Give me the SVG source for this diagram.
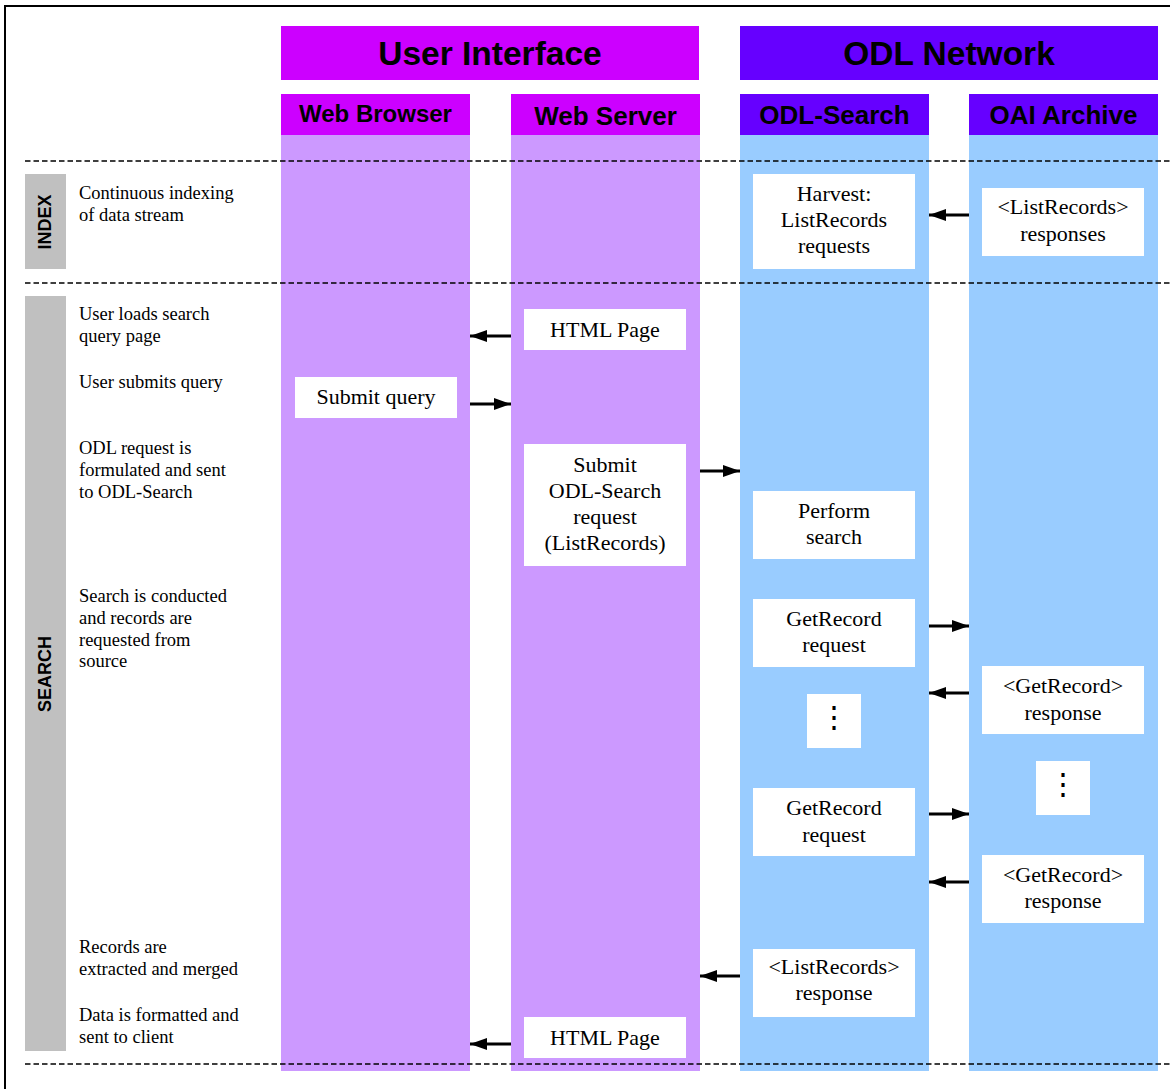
<svg xmlns="http://www.w3.org/2000/svg" width="1170" height="1089" viewBox="0 0 1170 1089">
  <defs>
    <marker id="head" viewBox="0 0 17 12" refX="17" refY="6" markerWidth="17" markerHeight="12" markerUnits="userSpaceOnUse" orient="auto">
      <path d="M0,0 L17,6 L0,12 Z" fill="#000"/>
    </marker>
    <style>
      .ui-head { fill: #CC00FF; }
      .ui-body { fill: #CC99FF; }
      .net-head { fill: #6600FF; }
      .net-body { fill: #99CCFF; }
      .phase { fill: #C0C0C0; }
      .box { fill: #FFFFFF; }
      .title { font-family: "Liberation Sans", Arial, sans-serif; font-weight: bold; fill: #000; text-anchor: middle; }
      .lbl { font-family: "Liberation Serif", "Times New Roman", serif; font-size: 22px; fill: #000; text-anchor: middle; }
      .dots { font-family: "DejaVu Serif", serif; font-size: 30px; fill: #000; text-anchor: middle; }
      .note { font-family: "Liberation Serif", "Times New Roman", serif; font-size: 18.5px; fill: #000; }
      .sep { stroke: #000; stroke-width: 1.5; stroke-dasharray: 5.5 3; fill: none; }
      .flow { stroke: #000; stroke-width: 3; fill: none; marker-end: url(#head); }
    </style>
  </defs>

  <rect width="1170" height="1089" fill="#FFFFFF"/>
  <!-- outer frame -->
  <rect x="5" y="6" width="1175" height="1100" fill="none" stroke="#000" stroke-width="2"/>

  <!-- group headers -->
  <g id="user-interface">
    <rect class="ui-head" x="281" y="26" width="418" height="54"/>
    <text class="title" x="490" y="65" font-size="33.5">User Interface</text>
  </g>
  <g id="odl-network">
    <rect class="net-head" x="740" y="26" width="418" height="54"/>
    <text class="title" x="949" y="65" font-size="33.5">ODL Network</text>
  </g>

  <!-- swimlanes -->
  <g id="lane-web-browser">
    <rect class="ui-body" x="281" y="135" width="189" height="936"/>
    <rect class="ui-head" x="281" y="94" width="189" height="41"/>
    <text class="title" x="375.5" y="122" font-size="24">Web Browser</text>
  </g>
  <g id="lane-web-server">
    <rect class="ui-body" x="511" y="135" width="189" height="936"/>
    <rect class="ui-head" x="511" y="94" width="189" height="41"/>
    <text class="title" x="605.5" y="125" font-size="26">Web Server</text>
  </g>
  <g id="lane-odl-search">
    <rect class="net-body" x="740" y="135" width="189" height="936"/>
    <rect class="net-head" x="740" y="94" width="189" height="41"/>
    <text class="title" x="834.5" y="124" font-size="26">ODL-Search</text>
  </g>
  <g id="lane-oai-archive">
    <rect class="net-body" x="969" y="135" width="189" height="936"/>
    <rect class="net-head" x="969" y="94" width="189" height="41"/>
    <text class="title" x="1063.5" y="124" font-size="26">OAI Archive</text>
  </g>

  <!-- phase bars -->
  <g id="phase-index">
    <rect class="phase" x="25" y="174" width="41" height="95"/>
    <text class="title" font-size="18" transform="translate(51,222) rotate(-90)">INDEX</text>
  </g>
  <g id="phase-search">
    <rect class="phase" x="25" y="296" width="41" height="755"/>
    <text class="title" font-size="18" transform="translate(51,674) rotate(-90)">SEARCH</text>
  </g>

  <!-- step descriptions -->
  <g id="step-notes">
    <text class="note" x="79" y="199">Continuous indexing</text>
    <text class="note" x="79" y="221">of data stream</text>
    <text class="note" x="79" y="320">User loads search</text>
    <text class="note" x="79" y="342">query page</text>
    <text class="note" x="79" y="388">User submits query</text>
    <text class="note" x="79" y="454">ODL request is</text>
    <text class="note" x="79" y="476">formulated and sent</text>
    <text class="note" x="79" y="498">to ODL-Search</text>
    <text class="note" x="79" y="602">Search is conducted</text>
    <text class="note" x="79" y="624">and records are</text>
    <text class="note" x="79" y="646">requested from</text>
    <text class="note" x="79" y="667">source</text>
    <text class="note" x="79" y="953">Records are</text>
    <text class="note" x="79" y="975">extracted and merged</text>
    <text class="note" x="79" y="1021">Data is formatted and</text>
    <text class="note" x="79" y="1043">sent to client</text>
  </g>

  <!-- action boxes -->
  <g id="harvest">
    <rect class="box" x="753" y="174" width="162" height="95"/>
    <text class="lbl" x="834" y="201">Harvest:</text>
    <text class="lbl" x="834" y="227">ListRecords</text>
    <text class="lbl" x="834" y="253">requests</text>
  </g>
  <g id="listrecords-responses">
    <rect class="box" x="982" y="188" width="162" height="68"/>
    <text class="lbl" x="1063" y="214">&lt;ListRecords&gt;</text>
    <text class="lbl" x="1063" y="241">responses</text>
  </g>
  <g id="html-page-1">
    <rect class="box" x="524" y="309" width="162" height="41"/>
    <text class="lbl" x="605" y="337">HTML Page</text>
  </g>
  <g id="submit-query">
    <rect class="box" x="295" y="377" width="162" height="41"/>
    <text class="lbl" x="376" y="404">Submit query</text>
  </g>
  <g id="submit-odl-request">
    <rect class="box" x="524" y="444" width="162" height="122"/>
    <text class="lbl" x="605" y="472">Submit</text>
    <text class="lbl" x="605" y="498">ODL-Search</text>
    <text class="lbl" x="605" y="524">request</text>
    <text class="lbl" x="605" y="550">(ListRecords)</text>
  </g>
  <g id="perform-search">
    <rect class="box" x="753" y="491" width="162" height="68"/>
    <text class="lbl" x="834" y="518">Perform</text>
    <text class="lbl" x="834" y="544">search</text>
  </g>
  <g id="getrecord-request-1">
    <rect class="box" x="753" y="599" width="162" height="68"/>
    <text class="lbl" x="834" y="626">GetRecord</text>
    <text class="lbl" x="834" y="652">request</text>
  </g>
  <g id="getrecord-response-1">
    <rect class="box" x="982" y="666" width="162" height="68"/>
    <text class="lbl" x="1063" y="693">&lt;GetRecord&gt;</text>
    <text class="lbl" x="1063" y="720">response</text>
  </g>
  <g id="ellipsis-search">
    <rect class="box" x="807" y="694" width="54" height="54"/>
    <text class="dots" x="834" y="727">⋮</text>
  </g>
  <g id="ellipsis-archive">
    <rect class="box" x="1036" y="761" width="54" height="54"/>
    <text class="dots" x="1063" y="794">⋮</text>
  </g>
  <g id="getrecord-request-2">
    <rect class="box" x="753" y="788" width="162" height="68"/>
    <text class="lbl" x="834" y="815">GetRecord</text>
    <text class="lbl" x="834" y="842">request</text>
  </g>
  <g id="getrecord-response-2">
    <rect class="box" x="982" y="855" width="162" height="68"/>
    <text class="lbl" x="1063" y="882">&lt;GetRecord&gt;</text>
    <text class="lbl" x="1063" y="908">response</text>
  </g>
  <g id="listrecords-response">
    <rect class="box" x="753" y="949" width="162" height="68"/>
    <text class="lbl" x="834" y="974" font-size="20.5">&lt;ListRecords&gt;</text>
    <text class="lbl" x="834" y="1000">response</text>
  </g>
  <g id="html-page-2">
    <rect class="box" x="524" y="1017" width="162" height="41"/>
    <text class="lbl" x="605" y="1045">HTML Page</text>
  </g>

  <!-- connectors -->
  <g id="connectors">
    <line class="flow" x1="969" y1="215" x2="929" y2="215"/>
    <line class="flow" x1="511" y1="336" x2="470" y2="336"/>
    <line class="flow" x1="470" y1="404" x2="511" y2="404"/>
    <line class="flow" x1="700" y1="471" x2="740" y2="471"/>
    <line class="flow" x1="929" y1="626" x2="969" y2="626"/>
    <line class="flow" x1="969" y1="693" x2="929" y2="693"/>
    <line class="flow" x1="929" y1="814" x2="969" y2="814"/>
    <line class="flow" x1="969" y1="882" x2="929" y2="882"/>
    <line class="flow" x1="740" y1="976" x2="700" y2="976"/>
    <line class="flow" x1="511" y1="1044" x2="470" y2="1044"/>
  </g>

  <!-- phase separators -->
  <g id="separators">
    <line class="sep" x1="25" y1="161" x2="1170" y2="161"/>
    <line class="sep" x1="25" y1="283" x2="1170" y2="283"/>
    <line class="sep" x1="25" y1="1064" x2="1170" y2="1064"/>
  </g>
</svg>
